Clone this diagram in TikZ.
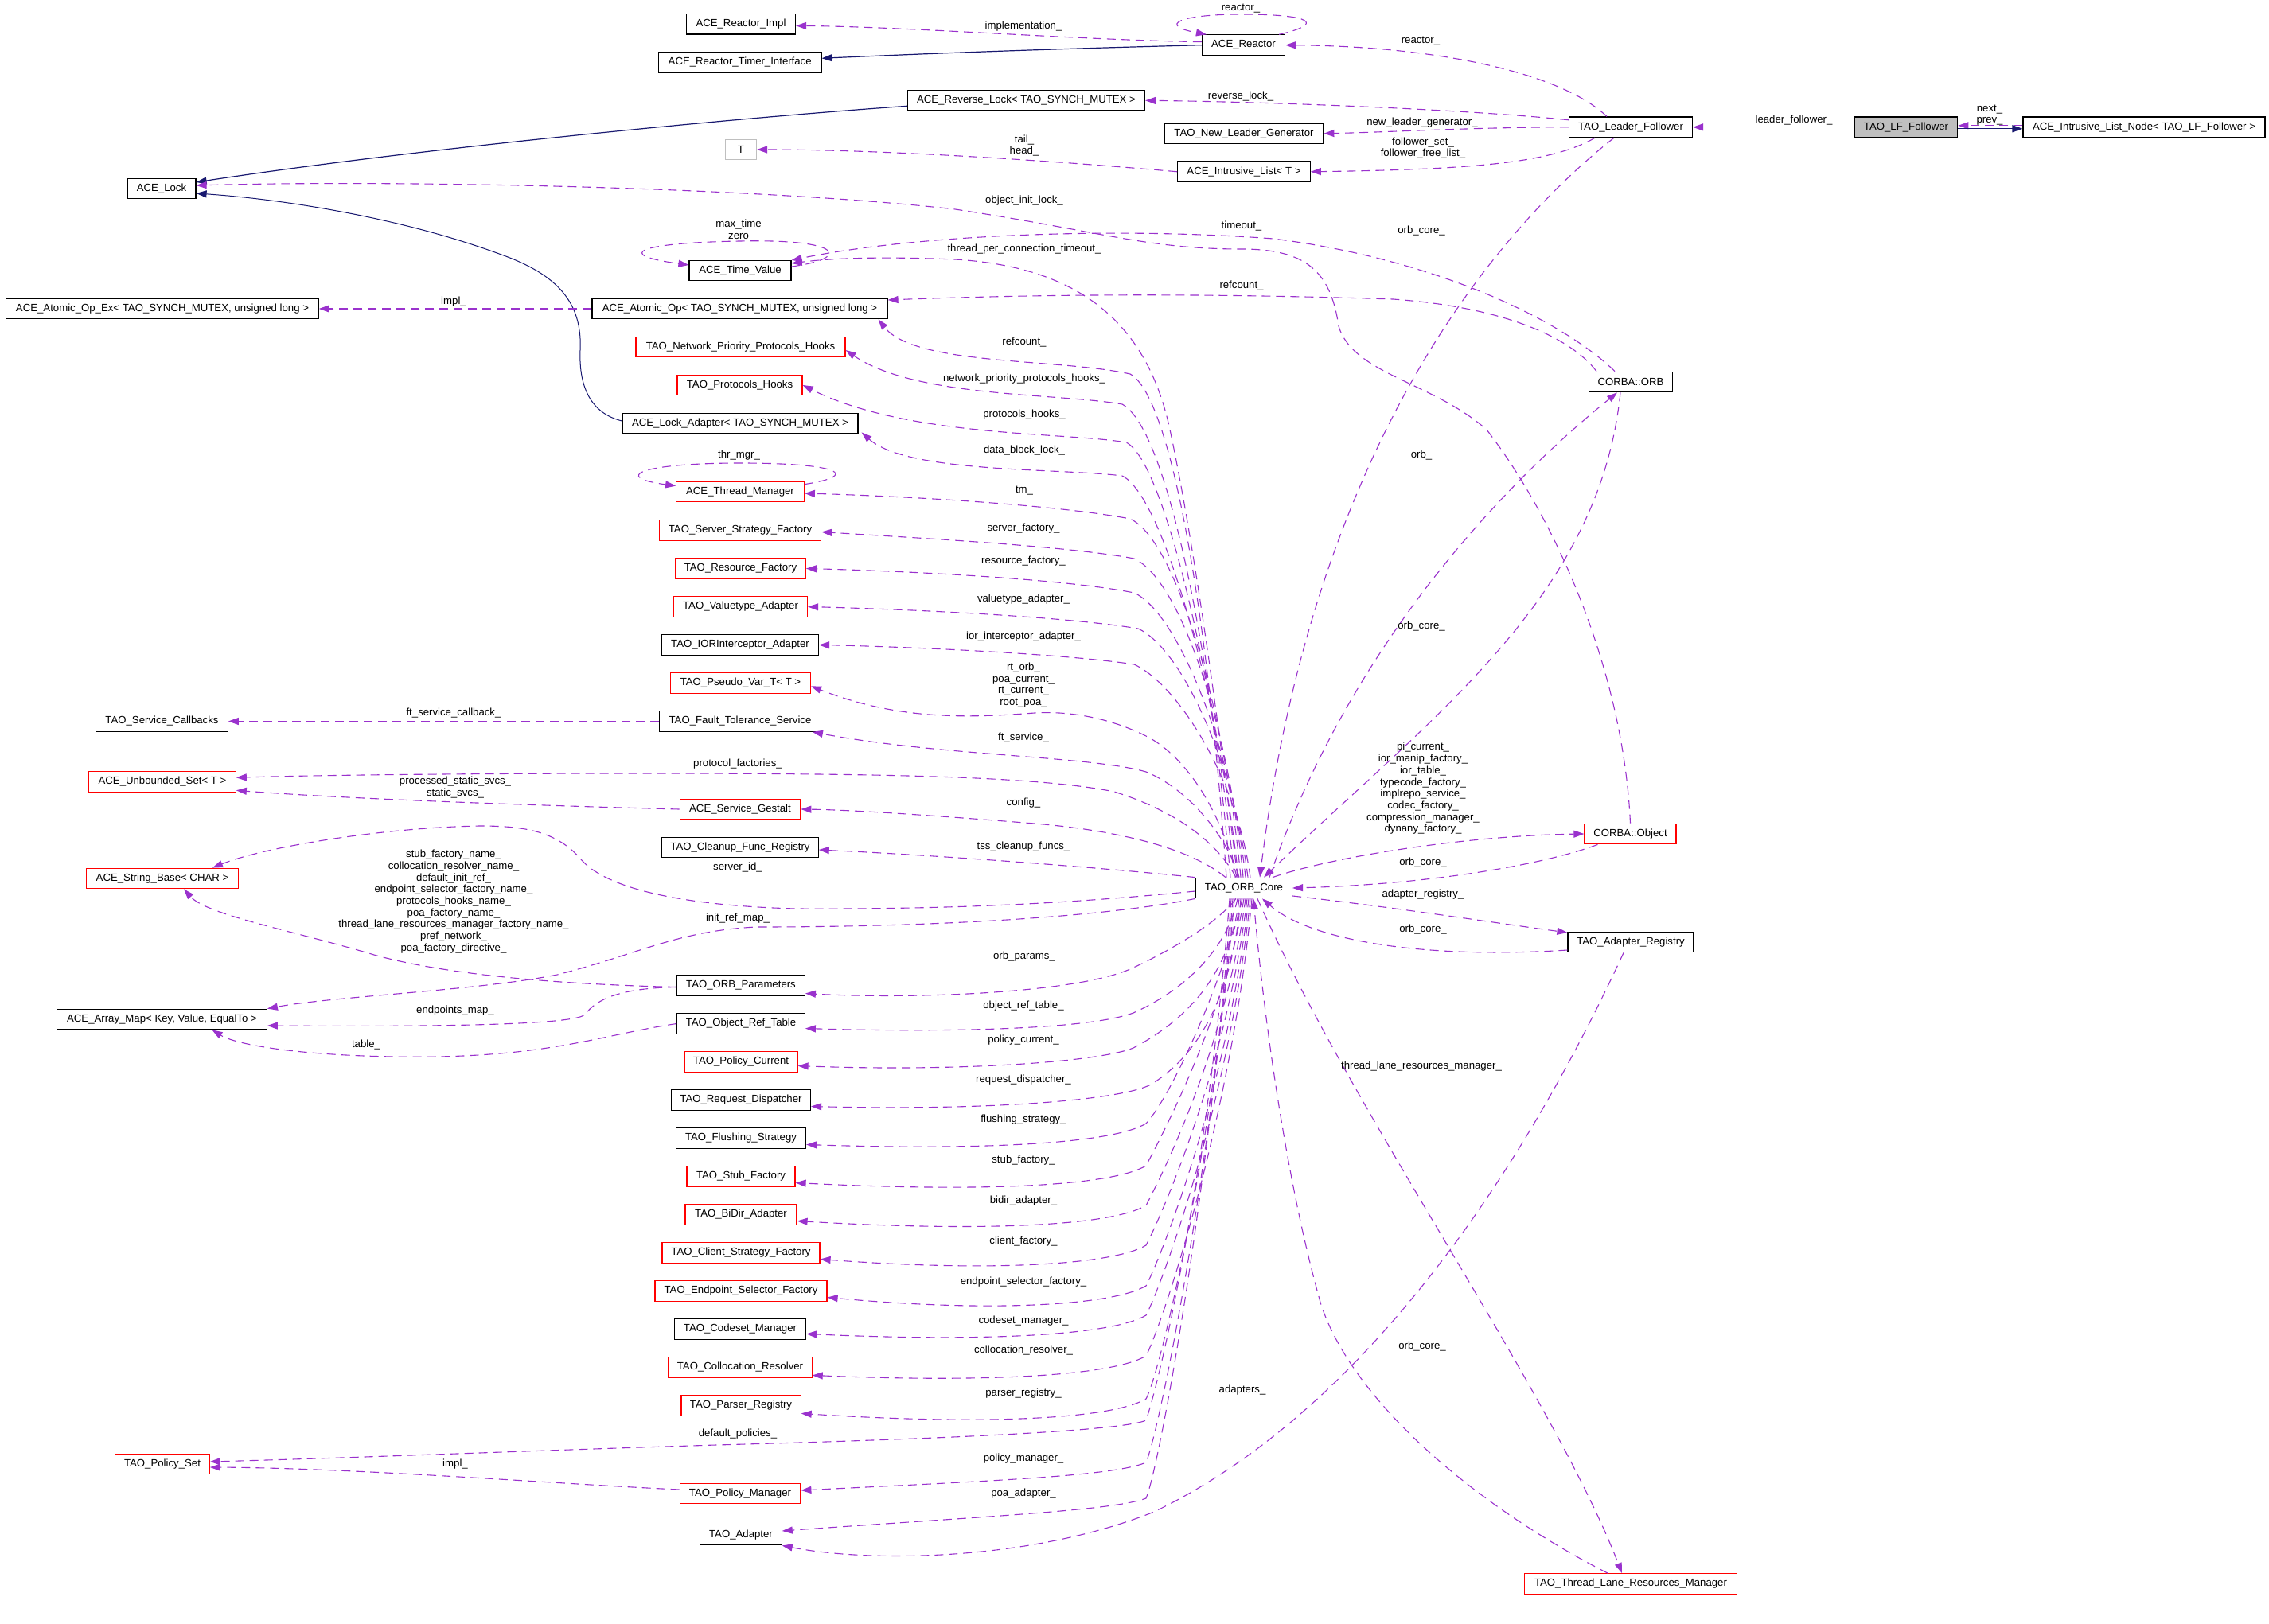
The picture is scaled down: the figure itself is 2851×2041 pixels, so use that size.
\documentclass[tikz,border=0pt]{standalone}
\usepackage{fontspec}
\setmainfont{Liberation Sans}
\usetikzlibrary{arrows.meta,calc}
\definecolor{dpurple}{HTML}{9A32CD}
\definecolor{mblue}{HTML}{191970}
\definecolor{gbord}{HTML}{BFBFBF}
\newcommand\dfont{\fontsize{13.2}{14.7}\selectfont}
\tikzset{
 box/.style={draw=black, line width=1.2pt, minimum height=25.6pt, inner xsep=2pt, inner ysep=0pt, font=\dfont},
 rbox/.style={box, draw=red},
 gbox/.style={box, draw=gbord},
 use/.style={draw=dpurple, line width=1.1pt, dash pattern=on 11pt off 7pt, -{Triangle[length=13pt,width=9pt]}},
 inh/.style={draw=mblue, line width=1.2pt, -{Triangle[length=13pt,width=9pt]}},
 lbl/.style={font=\dfont, align=center, inner sep=0pt},
}
\begin{document}
\begin{tikzpicture}[x=1pt,y=-1pt]
\fill[white] (0,0) rectangle (2851,2041);
\useasboundingbox (0,0) rectangle (2851,2041);
% ---------- nodes ----------
\node[box, minimum width=137pt] (ReactorImpl) at (931,30.3) {ACE\_Reactor\_Impl};
\node[box, minimum width=204.6pt] (ReactorTimer) at (929.7,78.3) {ACE\_Reactor\_Timer\_Interface};
\node[box, minimum width=104pt] (Reactor) at (1562.5,56.7) {ACE\_Reactor};
\node[box, minimum width=298pt] (ReverseLock) at (1289.5,126.3) {ACE\_Reverse\_Lock< TAO\_SYNCH\_MUTEX >};
\node[box, minimum width=199.6pt] (NewLeader) at (1563,167.8) {TAO\_New\_Leader\_Generator};
\node[gbox, minimum width=39pt] (T) at (931,188) {T};
\node[box, minimum width=166.5pt] (IntrList) at (1563,215.8) {ACE\_Intrusive\_List< T >};
\node[box, minimum width=155pt] (LeaderFollower) at (2049,159.8) {TAO\_Leader\_Follower};
\node[box, fill=gbord, minimum width=129.6pt] (LFFollower) at (2395,159.8) {TAO\_LF\_Follower};
\node[box, minimum width=304pt] (IntrListNode) at (2694,159.8) {ACE\_Intrusive\_List\_Node< TAO\_LF\_Follower >};
\node[box, minimum width=86pt] (ACELock) at (203,237) {ACE\_Lock};
\node[box, minimum width=128pt] (TimeValue) at (930,340) {ACE\_Time\_Value};
\node[box, minimum width=392.3pt] (AtomicOpEx) at (204,388) {ACE\_Atomic\_Op\_Ex< TAO\_SYNCH\_MUTEX, unsigned long >};
\node[box, minimum width=371pt] (AtomicOp) at (929.5,388) {ACE\_Atomic\_Op< TAO\_SYNCH\_MUTEX, unsigned long >};
\node[rbox, minimum width=263pt] (NetPrio) at (930.5,436) {TAO\_Network\_Priority\_Protocols\_Hooks};
\node[rbox, minimum width=157pt] (ProtoHooks) at (929.5,484) {TAO\_Protocols\_Hooks};
\node[box, minimum width=296pt] (LockAdapter) at (930,532) {ACE\_Lock\_Adapter< TAO\_SYNCH\_MUTEX >};
\node[rbox, minimum width=160.6pt] (ThreadMgr) at (930,618) {ACE\_Thread\_Manager};
\node[rbox, minimum width=203pt] (ServerStrat) at (930,666.5) {TAO\_Server\_Strategy\_Factory};
\node[rbox, minimum width=163.6pt] (ResourceFactory) at (930.5,714.5) {TAO\_Resource\_Factory};
\node[rbox, minimum width=168pt] (Valuetype) at (930.5,762.5) {TAO\_Valuetype\_Adapter};
\node[box, minimum width=197pt] (IORInterceptor) at (930,810.5) {TAO\_IORInterceptor\_Adapter};
\node[rbox, minimum width=176pt] (PseudoVar) at (930.5,858.3) {TAO\_Pseudo\_Var\_T< T >};
\node[box, minimum width=202.6pt] (FaultTol) at (930,906.5) {TAO\_Fault\_Tolerance\_Service};
\node[box, minimum width=165.5pt] (ServiceCallbacks) at (203.5,906.5) {TAO\_Service\_Callbacks};
\node[rbox, minimum width=184.5pt] (UnboundedSet) at (204,982.3) {ACE\_Unbounded\_Set< T >};
\node[rbox, minimum width=151.6pt] (ServiceGestalt) at (930,1017) {ACE\_Service\_Gestalt};
\node[box, minimum width=196.4pt] (Cleanup) at (930,1065) {TAO\_Cleanup\_Func\_Registry};
\node[rbox, minimum width=190.8pt] (StringBase) at (204,1104) {ACE\_String\_Base< CHAR >};
\node[box, minimum width=121pt] (core) at (1563,1116) {TAO\_ORB\_Core};
\node[box, minimum width=104.8pt] (CORBAORB) at (2049,480) {CORBA::ORB};
\node[rbox, minimum width=115pt] (CORBAObject) at (2048.5,1048) {CORBA::Object};
\node[box, minimum width=158pt] (AdapterRegistry) at (2049,1184) {TAO\_Adapter\_Registry};
\node[box, minimum width=160.6pt] (ORBParams) at (931,1238.5) {TAO\_ORB\_Parameters};
\node[box, minimum width=263.7pt] (ArrayMap) at (203.5,1281) {ACE\_Array\_Map< Key, Value, EqualTo >};
\node[box, minimum width=160.6pt] (ObjRefTable) at (931,1286.5) {TAO\_Object\_Ref\_Table};
\node[rbox, minimum width=142pt] (PolicyCurrent) at (931,1334.5) {TAO\_Policy\_Current};
\node[box, minimum width=175pt] (RequestDispatcher) at (931,1382.5) {TAO\_Request\_Dispatcher};
\node[box, minimum width=163pt] (Flushing) at (931,1430.5) {TAO\_Flushing\_Strategy};
\node[rbox, minimum width=136pt] (StubFactory) at (931,1478.5) {TAO\_Stub\_Factory};
\node[rbox, minimum width=140pt] (BiDir) at (931,1526.5) {TAO\_BiDir\_Adapter};
\node[rbox, minimum width=198pt] (ClientStrategy) at (931,1574.5) {TAO\_Client\_Strategy\_Factory};
\node[rbox, minimum width=216pt] (EndpointSelector) at (931,1622.5) {TAO\_Endpoint\_Selector\_Factory};
\node[box, minimum width=165pt] (Codeset) at (930,1670.4) {TAO\_Codeset\_Manager};
\node[rbox, minimum width=180.3pt] (Collocation) at (930,1718.4) {TAO\_Collocation\_Resolver};
\node[rbox, minimum width=150.2pt] (Parser) at (931,1766.4) {TAO\_Parser\_Registry};
\node[rbox, minimum width=118.5pt] (PolicySet) at (204,1840) {TAO\_Policy\_Set};
\node[rbox, minimum width=151.6pt] (PolicyManager) at (930,1877) {TAO\_Policy\_Manager};
\node[box, minimum width=102.3pt] (Adapter) at (931,1929) {TAO\_Adapter};
\node[rbox, minimum width=266.6pt] (ThreadLane) at (2049,1990.5) {TAO\_Thread\_Lane\_Resources\_Manager};
% ---------- top area edges ----------
\draw[inh] (Reactor.west) .. controls (1300,62) and (1150,68) .. ([yshift=5pt]ReactorTimer.east);
\draw[use] ([yshift=4pt]Reactor.west) .. controls (1350,50) and (1150,34) .. ([yshift=-2pt]ReactorImpl.east);
\draw[use] ([xshift=-8pt]Reactor.north east) .. controls (1665,30) and (1650,18) .. (1560,18) .. controls (1480,18) and (1455,32) .. ([xshift=6pt]Reactor.north west);
\draw[use] ([xshift=-30pt]LeaderFollower.north) .. controls (1960,90) and (1800,58) .. (Reactor.east);
\draw[use] ([yshift=9pt]LeaderFollower.west) .. controls (1850,138) and (1600,128) .. (ReverseLock.east);
\draw[use] (LeaderFollower.west) .. controls (1850,160) and (1750,166) .. (NewLeader.east);
\draw[use] ([xshift=-45pt]LeaderFollower.south) .. controls (1950,205) and (1850,213) .. (IntrList.east);
\draw[use] (IntrList.west) .. controls (1300,200) and (1100,188) .. (T.east);
\draw[use] (LFFollower.west) -- (LeaderFollower.east);
\draw[use] ([yshift=2pt]IntrListNode.west) -- ([yshift=2pt]LFFollower.east);
\draw[inh] ([yshift=-2pt]LFFollower.east) -- ([yshift=-2pt]IntrListNode.west);
\draw[inh] ([yshift=-7pt]ReverseLock.west) .. controls (900,150) and (500,190) .. ([yshift=8pt]ACELock.east);
\draw[inh, line width=1pt] ([yshift=3pt]LockAdapter.west) .. controls (745,520) and (727,490) .. (729,440) .. controls (732,380) and (700,345) .. (630,320) .. controls (500,272) and (350,250) .. ([yshift=-6pt]ACELock.east);
\draw[use] (CORBAObject.north) .. controls (2040,850) and (1960,660) .. (1868,540) .. controls (1800,480) and (1700,470) .. (1682,410) .. controls (1672,340) and (1640,313) .. (1560,313) .. controls (1440,313) and (1380,290) .. (1200,263) .. controls (950,235) and (500,226) .. ([yshift=4pt]ACELock.east);
\draw[use] ([xshift=-20pt]CORBAORB.north) .. controls (1960,400) and (1800,325) .. (1600,300) .. controls (1400,285) and (1150,295) .. ([yshift=13pt]TimeValue.east);
\draw[use] ([xshift=-8pt]core.north) .. controls (1530,900) and (1500,680) .. (1470,540) .. controls (1440,400) and (1350,335) .. (1200,326) .. controls (1100,322) and (1040,325) .. ([yshift=9pt]TimeValue.east);
\draw[use] ([yshift=5pt]TimeValue.east) .. controls (1070,325) and (1060,300) .. (930,303) .. controls (800,305) and (770,320) .. ([yshift=7pt]TimeValue.west);
\draw[use] ([xshift=-43pt]CORBAORB.north) .. controls (1970,420) and (1880,385) .. (1750,376) .. controls (1500,368) and (1300,370) .. ([yshift=11pt]AtomicOp.east);
\draw[use] (AtomicOp.west) -- (AtomicOpEx.east);
\draw[use] ([yshift=-4pt]ThreadMgr.north east) .. controls (1080,598) and (1060,582) .. (930,582) .. controls (800,582) and (770,600) .. ([yshift=-6pt]ThreadMgr.north west);
% ---------- fan above the core ----------
\draw[use] ([xshift=-22pt]core.north) .. controls (1520,800) and (1475,500) .. (1420,470) .. controls (1330,450) and (1150,460) .. ([xshift=-12pt]AtomicOp.south east);
\draw[use] ([xshift=-17pt]core.north) .. controls (1525,850) and (1470,540) .. (1410,508) .. controls (1330,494) and (1150,500) .. ([yshift=-4pt]NetPrio.east);
\draw[use] ([xshift=-12pt]core.north) .. controls (1530,880) and (1465,580) .. (1415,556) .. controls (1340,543) and (1140,550) .. (ProtoHooks.east);
\draw[use] ([xshift=-7pt]core.north) .. controls (1535,900) and (1465,625) .. (1410,598) .. controls (1330,588) and (1140,595) .. ([shift={(4pt,2pt)}]LockAdapter.south east);
\draw[use] ([xshift=-4pt]core.north) .. controls (1540,900) and (1480,680) .. (1420,652) .. controls (1330,635) and (1150,624) .. ([yshift=-2pt]ThreadMgr.east);
\draw[use] ([xshift=-1pt]core.north) .. controls (1545,920) and (1485,730) .. (1425,702) .. controls (1340,686) and (1150,676) .. ([yshift=-2pt]ServerStrat.east);
\draw[use] ([xshift=2pt]core.north) .. controls (1548,940) and (1480,770) .. (1425,745) .. controls (1340,728) and (1150,718) .. (ResourceFactory.east);
\draw[use] ([xshift=5pt]core.north) .. controls (1550,960) and (1485,815) .. (1430,790) .. controls (1340,775) and (1150,766) .. (Valuetype.east);
\draw[use] ([xshift=8pt]core.north) .. controls (1555,980) and (1480,860) .. (1425,835) .. controls (1340,822) and (1150,813) .. (IORInterceptor.east);
\draw[use] ([xshift=-9pt]core.north) .. controls (1535,1020) and (1490,950) .. (1440,925) .. controls (1400,905) and (1350,893) .. (1300,896) .. controls (1220,902) and (1130,906) .. ([yshift=-4pt]PseudoVar.east);
\draw[use] ([xshift=-6pt]core.north) .. controls (1545,1060) and (1500,995) .. (1440,970) .. controls (1370,950) and (1180,950) .. ([xshift=-11pt]FaultTol.south east);
\draw[use] ([xshift=-10pt]core.north) .. controls (1530,1060) and (1480,1020) .. (1400,995) .. controls (1300,975) and (1100,972) .. (800,972) .. controls (600,972) and (400,974) .. ([yshift=5pt]UnboundedSet.east);
\draw[use] ([xshift=-23pt]core.north) .. controls (1500,1070) and (1420,1045) .. (1300,1035) .. controls (1200,1027) and (1080,1018) .. (ServiceGestalt.east);
\draw[use] (core.north west) .. controls (1400,1092) and (1200,1076) .. ([yshift=-3pt]Cleanup.east);
\draw[use] (FaultTol.west) -- (ServiceCallbacks.east);
\draw[use] (ServiceGestalt.west) .. controls (700,1013) and (450,1005) .. ([yshift=-11pt]UnboundedSet.east);
% ---------- left of the core ----------
\draw[use] ([yshift=-4pt]core.west) .. controls (1350,1135) and (1200,1143) .. (1000,1142) .. controls (850,1138) and (760,1115) .. (730,1080) .. controls (700,1045) and (660,1038) .. (603,1038) .. controls (480,1040) and (330,1065) .. ([xshift=-33pt]StringBase.north east);
\draw[use] (core.south west) .. controls (1400,1150) and (1200,1165) .. (950,1165) .. controls (850,1170) and (800,1200) .. (700,1225) .. controls (600,1245) and (420,1252) .. (ArrayMap.north east);
\draw[use] ([yshift=-2pt]ORBParams.west) .. controls (700,1237) and (560,1225) .. (470,1200) .. controls (370,1170) and (260,1150) .. ([xshift=27pt]StringBase.south);
\draw[use] ([yshift=-2pt]ORBParams.west) .. controls (780,1242) and (750,1255) .. (735,1275) .. controls (720,1290) and (500,1290) .. ([yshift=-8pt]ArrayMap.east);
\draw[use] (ObjRefTable.west) .. controls (760,1300) and (700,1325) .. (550,1328) .. controls (400,1330) and (300,1315) .. ([xshift=63pt]ArrayMap.south);
\draw[use] ([xshift=-18pt]core.south) .. controls (1520,1450) and (1462,1720) .. (1440,1785) .. controls (1410,1798) and (1200,1808) .. (900,1816) .. controls (700,1822) and (450,1832) .. ([yshift=3pt]PolicySet.east);
\draw[use] ([yshift=5pt]PolicyManager.west) .. controls (700,1865) and (450,1845) .. ([yshift=-4pt]PolicySet.east);
% ---------- fan below the core ----------
\draw[use] ([xshift=-10pt]core.south) .. controls (1530,1160) and (1470,1195) .. (1420,1218) .. controls (1350,1248) and (1150,1256) .. ([yshift=-10pt]ORBParams.east);
\draw[use] ([xshift=-8pt]core.south) .. controls (1540,1200) and (1480,1248) .. (1424,1273) .. controls (1370,1293) and (1200,1298) .. ([yshift=-6pt]ObjRefTable.east);
\draw[use] ([xshift=-6pt]core.south) .. controls (1545,1230) and (1485,1285) .. (1424,1317) .. controls (1380,1335) and (1200,1347) .. ([yshift=-5pt]PolicyCurrent.east);
\draw[use] ([xshift=-4pt]core.south) .. controls (1548,1260) and (1500,1330) .. (1446,1363) .. controls (1410,1382) and (1250,1396) .. ([yshift=-8pt]RequestDispatcher.east);
\draw[use] ([xshift=-2pt]core.south) .. controls (1535,1240) and (1470,1380) .. (1440,1412) .. controls (1400,1436) and (1250,1446) .. ([yshift=-8pt]Flushing.east);
\draw[use] (core.south) .. controls (1538,1280) and (1460,1427) .. (1440,1465) .. controls (1400,1489) and (1250,1499) .. ([yshift=-8pt]StubFactory.east);
\draw[use] ([xshift=2pt]core.south) .. controls (1540,1317) and (1460,1477) .. (1440,1515) .. controls (1400,1539) and (1250,1549) .. ([yshift=-8pt]BiDir.east);
\draw[use] ([xshift=4pt]core.south) .. controls (1542,1339) and (1460,1527) .. (1440,1565) .. controls (1400,1589) and (1250,1599) .. ([yshift=-8pt]ClientStrategy.east);
\draw[use] ([xshift=6pt]core.south) .. controls (1544,1362) and (1460,1578) .. (1440,1616) .. controls (1400,1640) and (1250,1650) .. ([yshift=-8pt]EndpointSelector.east);
\draw[use] ([xshift=8pt]core.south) .. controls (1546,1379) and (1460,1615) .. (1440,1653) .. controls (1400,1677) and (1250,1687) .. ([yshift=-6pt]Codeset.east);
\draw[use] ([xshift=10pt]core.south) .. controls (1548,1402) and (1460,1666) .. (1440,1704) .. controls (1400,1728) and (1250,1738) .. ([yshift=-10pt]Collocation.east);
\draw[use] ([xshift=-12pt]core.south) .. controls (1526,1426) and (1460,1720) .. (1440,1758) .. controls (1400,1782) and (1250,1792) .. ([yshift=-10pt]Parser.east);
\draw[use] ([xshift=-14pt]core.south) .. controls (1524,1457) and (1458,1795) .. (1440,1838) .. controls (1400,1855) and (1250,1861) .. ([yshift=4pt]PolicyManager.east);
\draw[use] ([xshift=-16pt]core.south) .. controls (1522,1477) and (1458,1840) .. (1440,1883) .. controls (1400,1898) and (1250,1905) .. ([yshift=5pt]Adapter.east);
% ---------- right of the core ----------
\draw[use] ([xshift=-21pt]LeaderFollower.south) .. controls (1880,290) and (1650,560) .. ([xshift=20pt]core.north);
\draw[use] ([xshift=-13pt]CORBAORB.south) .. controls (2010,750) and (1800,900) .. ([xshift=25pt]core.north);
\draw[use] ([xshift=32pt]core.north) .. controls (1700,800) and (1900,600) .. ([xshift=-17pt]CORBAORB.south);
\draw[use] ([xshift=36pt]core.north) .. controls (1680,1075) and (1850,1050) .. (CORBAObject.west);
\draw[use] ([xshift=-41pt]CORBAObject.south) .. controls (1930,1090) and (1780,1112) .. (core.east);
\draw[use] ([yshift=-10pt]core.east) .. controls (1750,1140) and (1880,1160) .. ([yshift=12pt]AdapterRegistry.west);
\draw[use] ([yshift=-10pt]AdapterRegistry.west) .. controls (1800,1205) and (1650,1185) .. ([xshift=23pt]core.south);
\draw[use] ([xshift=17pt]core.south) .. controls (1700,1400) and (1950,1750) .. ([xshift=-11pt]ThreadLane.north);
\draw[use] ([xshift=-29pt]ThreadLane.north) .. controls (1850,1890) and (1700,1760) .. (1660,1640) .. controls (1620,1500) and (1590,1300) .. ([xshift=12pt]core.south);
\draw[use] ([xshift=-9pt]AdapterRegistry.south) .. controls (1900,1500) and (1700,1780) .. (1450,1900) .. controls (1300,1960) and (1100,1965) .. (Adapter.south east);
% ---------- labels ----------
\node[lbl] (L1) at (1286,33) {implementation\_};
\node[lbl] (L2) at (1559,11) {reactor\_};
\node[lbl] (L3) at (1785,52) {reactor\_};
\node[lbl] (L4) at (1559,121) {reverse\_lock\_};
\node[lbl] (L5) at (1787,154) {new\_leader\_generator\_};
\node[lbl] (L6) at (1788,186) {follower\_set\_\\follower\_free\_list\_};
\node[lbl] (L7) at (1287,183) {tail\_\\head\_};
\node[lbl] (L8) at (2254,151) {leader\_follower\_};
\node[lbl] (L9) at (2500,144.5) {next\_\\prev\_};
\node[lbl] (L10) at (1287,252) {object\_init\_lock\_};
\node[lbl] (L11) at (1560,284) {timeout\_};
\node[lbl] (L12) at (1786,290) {orb\_core\_};
\node[lbl] (L13) at (1287,313) {thread\_per\_connection\_timeout\_};
\node[lbl] (L14) at (928,288) {max\_time\\zero};
\node[lbl] (L15) at (1560,359) {refcount\_};
\node[lbl] (L16) at (570,379) {impl\_};
\node[lbl] (L17) at (1287,430) {refcount\_};
\node[lbl] (L18) at (1287,476) {network\_priority\_protocols\_hooks\_};
\node[lbl] (L19) at (1287,521) {protocols\_hooks\_};
\node[lbl] (L20) at (1287,566) {data\_block\_lock\_};
\node[lbl] (L21) at (1786,572) {orb\_};
\node[lbl] (L22) at (928.5,572) {thr\_mgr\_};
\node[lbl] (L23) at (1287,617) {tm\_};
\node[lbl] (L24) at (1286,664) {server\_factory\_};
\node[lbl] (L25) at (1286,705) {resource\_factory\_};
\node[lbl] (L26) at (1286,753) {valuetype\_adapter\_};
\node[lbl] (L27) at (1286,800) {ior\_interceptor\_adapter\_};
\node[lbl] (L28) at (1786,787) {orb\_core\_};
\node[lbl] (L29) at (1286,861) {rt\_orb\_\\poa\_current\_\\rt\_current\_\\root\_poa\_};
\node[lbl] (L30) at (570,896) {ft\_service\_callback\_};
\node[lbl] (L31) at (1286,927) {ft\_service\_};
\node[lbl] (L32) at (927,960) {protocol\_factories\_};
\node[lbl] (L33) at (572,989.5) {processed\_static\_svcs\_\\static\_svcs\_};
\node[lbl] (L34) at (1788,991) {pi\_current\_\\ior\_manip\_factory\_\\ior\_table\_\\typecode\_factory\_\\implrepo\_service\_\\codec\_factory\_\\compression\_manager\_\\dynany\_factory\_};
\node[lbl] (L35) at (1286,1009) {config\_};
\node[lbl] (L36) at (1286,1064) {tss\_cleanup\_funcs\_};
\node[lbl] (L37) at (1788,1084) {orb\_core\_};
\node[lbl] (L38) at (927,1090) {server\_id\_};
\node[lbl] (L39) at (570,1133) {stub\_factory\_name\_\\collocation\_resolver\_name\_\\default\_init\_ref\_\\endpoint\_selector\_factory\_name\_\\protocols\_hooks\_name\_\\poa\_factory\_name\_\\thread\_lane\_resources\_manager\_factory\_name\_\\pref\_network\_\\poa\_factory\_directive\_};
\node[lbl] (L40) at (1788,1124) {adapter\_registry\_};
\node[lbl] (L41) at (927,1154) {init\_ref\_map\_};
\node[lbl] (L42) at (1788,1168) {orb\_core\_};
\node[lbl] (L43) at (1287,1202) {orb\_params\_};
\node[lbl] (L44) at (572,1270) {endpoints\_map\_};
\node[lbl] (L45) at (1286,1264) {object\_ref\_table\_};
\node[lbl] (L46) at (460,1313) {table\_};
\node[lbl] (L47) at (1286,1307) {policy\_current\_};
\node[lbl] (L48) at (1786,1340) {thread\_lane\_resources\_manager\_};
\node[lbl] (L49) at (1286,1357) {request\_dispatcher\_};
\node[lbl] (L50) at (1286,1407) {flushing\_strategy\_};
\node[lbl] (L51) at (1286,1458) {stub\_factory\_};
\node[lbl] (L52) at (1286,1509) {bidir\_adapter\_};
\node[lbl] (L53) at (1286,1560) {client\_factory\_};
\node[lbl] (L54) at (1286,1611) {endpoint\_selector\_factory\_};
\node[lbl] (L55) at (1286,1660) {codeset\_manager\_};
\node[lbl] (L56) at (1787,1692) {orb\_core\_};
\node[lbl] (L57) at (1286,1697) {collocation\_resolver\_};
\node[lbl] (L58) at (1561,1747) {adapters\_};
\node[lbl] (L59) at (1286,1751) {parser\_registry\_};
\node[lbl] (L60) at (927,1802) {default\_policies\_};
\node[lbl] (L61) at (1286,1833) {policy\_manager\_};
\node[lbl] (L62) at (572,1840) {impl\_};
\node[lbl] (L63) at (1286,1877) {poa\_adapter\_};
\end{tikzpicture}
\end{document}
